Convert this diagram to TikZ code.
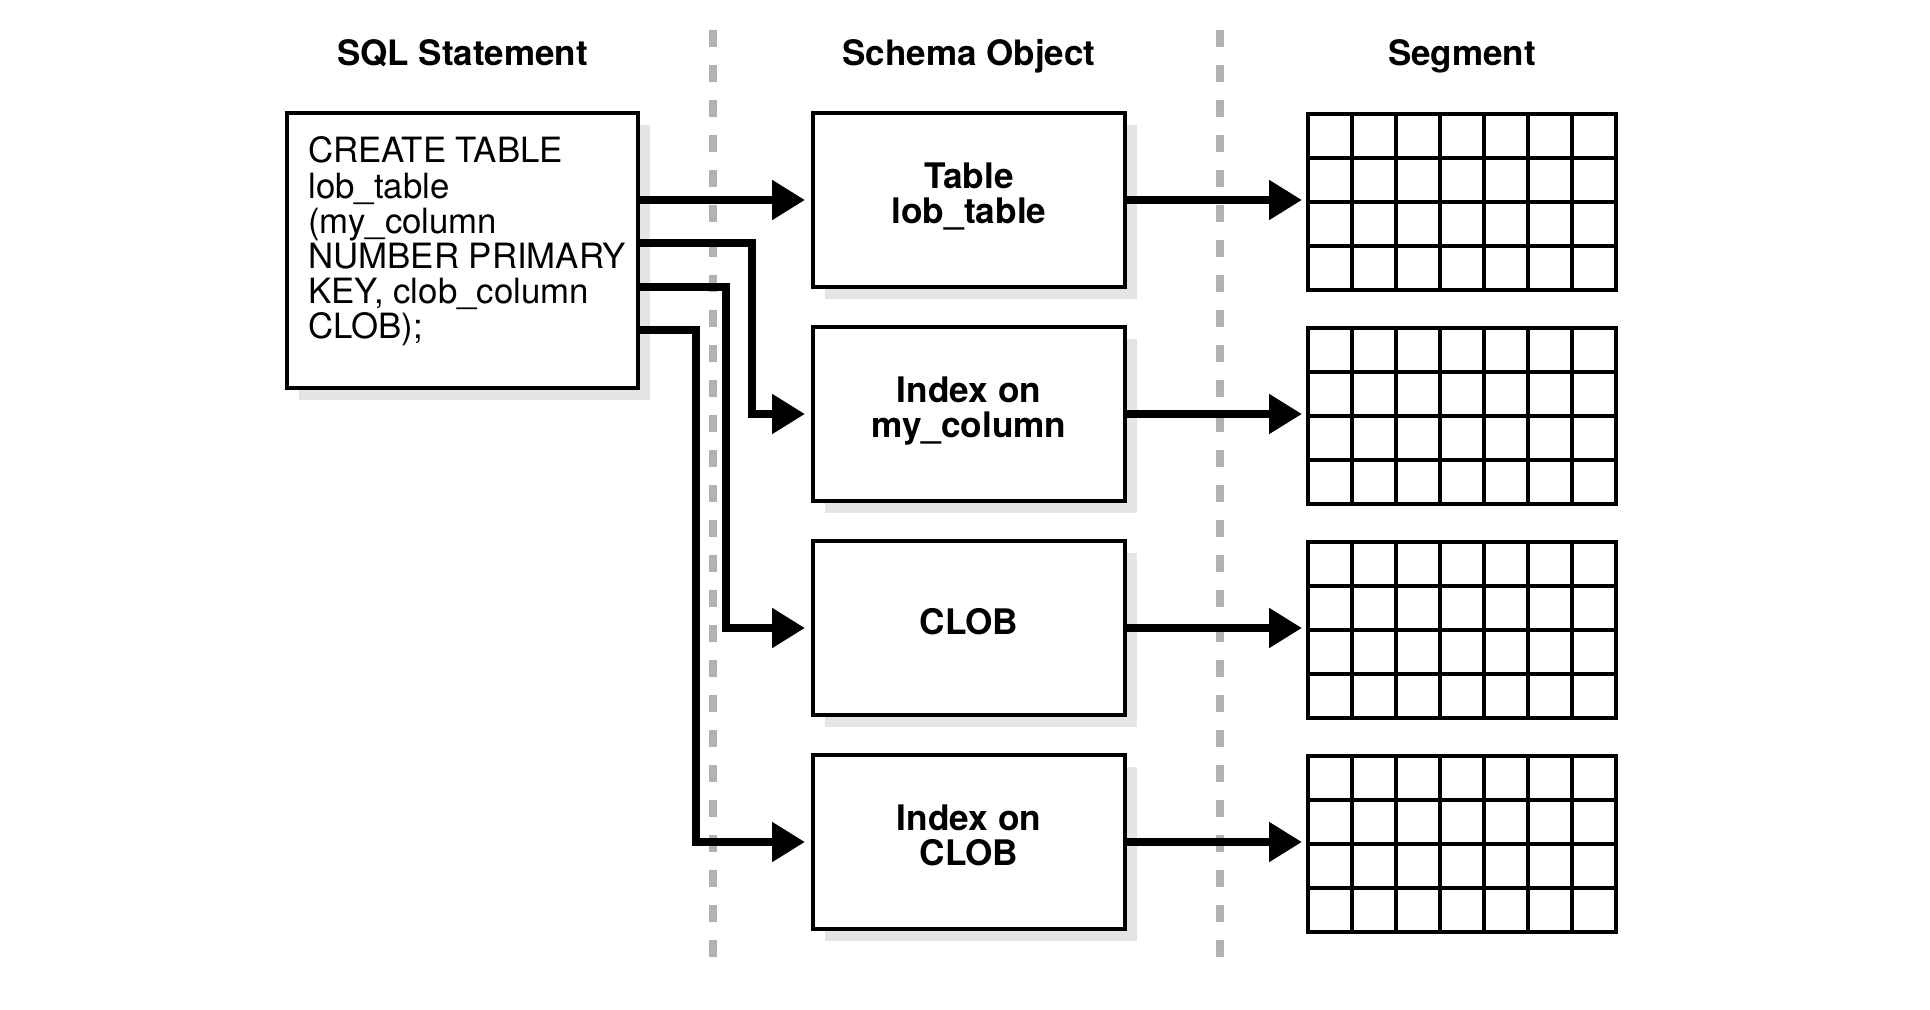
\documentclass[tikz,border=0pt]{standalone}
\usepackage{fontspec}
\setmainfont{TeX Gyre Heros}
\usetikzlibrary{arrows.meta,shadows,calc}
\begin{document}
\begin{tikzpicture}[x=0.5pt,y=-0.5pt,
  shd/.style={drop shadow={shadow xshift=6pt, shadow yshift=-6pt, fill=black!10, opacity=1}},
  hdr/.style={font=\bfseries\fontsize{17.5}{21}\selectfont, anchor=base, inner sep=0pt},
  sqlbox/.style={draw, line width=1.75pt, fill=white, minimum width=175.5pt, minimum height=137.5pt, inner sep=0pt, outer sep=0pt, shd},
  sqltxt/.style={anchor=base west, inner sep=0pt, font=\fontsize{17.4}{17.6}\selectfont},
  objbox/.style={draw, line width=1.75pt, fill=white, minimum width=156pt, minimum height=87pt, inner sep=0pt, outer sep=0pt, shd},
  objtxt/.style={inner sep=0pt, align=center, font=\bfseries\fontsize{17.6}{17.5}\selectfont},
  segbox/.style={draw, line width=1.75pt, minimum width=154pt, minimum height=88pt, inner sep=0pt, outer sep=0pt},
  gline/.style={line width=1.75pt},
  sepline/.style={line width=4pt, draw=black!30, dash pattern=on 8.5pt off 9pt},
  arr/.style={line width=4.25pt, -{Triangle[length=16.5pt,width=19pt]}, shorten >=4pt},
]
\useasboundingbox (0,0) rectangle (1930,1010);

% separators
\coordinate (s1t) at (713,30);
\coordinate (s1b) at (713,958);
\coordinate (s2t) at (1220,30);
\coordinate (s2b) at (1220,958);
\draw[sepline] (s1t) -- (s1b);
\draw[sepline] (s2t) -- (s2b);

% headers
\node[hdr] (h1) at (462.5,66) {SQL Statement};
\node[hdr] (h2) at (969,66) {Schema Object};
\node[hdr] (h3) at (1462,66) {Segment};

% SQL statement
\node[sqlbox] (sql) at (462.5,250.5) {};
\node[sqltxt] (sqltext) at (308,163) {\vtop{\baselineskip=17.6pt\lineskiplimit=-20pt
  \hbox{CREATE TABLE}\hbox{lob\_table}\hbox{(my\_column}\hbox{NUMBER PRIMARY}\hbox{KEY, clob\_column}\hbox{CLOB);}}};

% schema objects
\node[objbox] (o1) at (969,200) {};
\node[objbox] (o2) at (969,414) {};
\node[objbox] (o3) at (969,628) {};
\node[objbox] (o4) at (969,842) {};
\node[objtxt] (t1) at ([yshift=2pt]o1.center) {Table\\lob\_table};
\node[objtxt] (t2) at ([yshift=1.5pt]o2.center) {Index on\\my\_column};
\node[objtxt] (t3) at ([yshift=3pt]o3.center) {CLOB};
\node[objtxt] (t4) at ([yshift=3.5pt]o4.center) {Index on\\CLOB};

% segments
\node[segbox] (g1) at (1462,202) {};
\node[segbox] (g2) at (1462,416) {};
\node[segbox] (g3) at (1462,630) {};
\node[segbox] (g4) at (1462,844) {};
\foreach \g in {g1,g2,g3,g4} {
  \foreach \i in {1,...,6}
    \draw[gline] ($(\g.north west)!\i/7!(\g.north east)$) -- ($(\g.south west)!\i/7!(\g.south east)$);
  \foreach \j in {1,2,3}
    \draw[gline] ($(\g.north west)!\j/4!(\g.south west)$) -- ($(\g.north east)!\j/4!(\g.south east)$);
}

% connectors SQL -> objects
\coordinate (v2) at (752,243);
\coordinate (v3) at (726,287);
\coordinate (v4) at (696,330);
\draw[arr] (sql.east |- o1.west) -- (o1.west);
\draw[arr] (sql.east |- v2) -- (v2) -- (v2 |- o2.west) -- (o2.west);
\draw[arr] (sql.east |- v3) -- (v3) -- (v3 |- o3.west) -- (o3.west);
\draw[arr] (sql.east |- v4) -- (v4) -- (v4 |- o4.west) -- (o4.west);

% connectors objects -> segments
\draw[arr, shorten >=3pt] (o1.east) -- (o1.east -| g1.west);
\draw[arr, shorten >=3pt] (o2.east) -- (o2.east -| g2.west);
\draw[arr, shorten >=3pt] (o3.east) -- (o3.east -| g3.west);
\draw[arr, shorten >=3pt] (o4.east) -- (o4.east -| g4.west);
\end{tikzpicture}
\end{document}
